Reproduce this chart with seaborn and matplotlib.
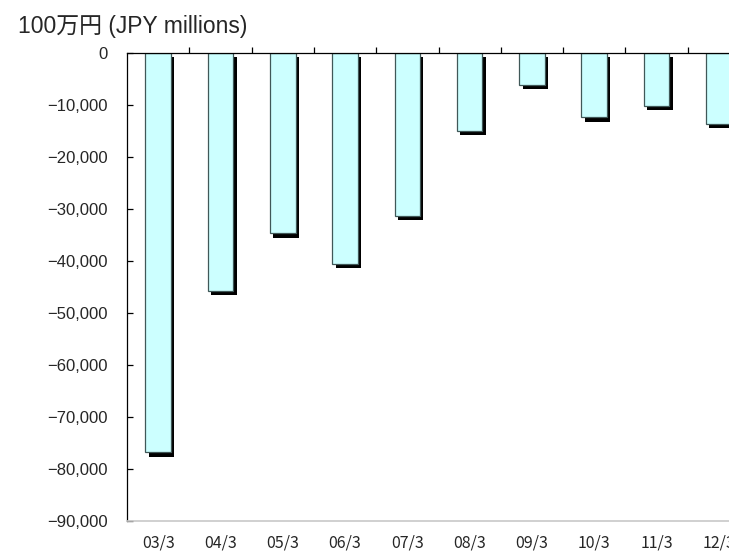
import numpy as np
import matplotlib
matplotlib.use("Agg")
import matplotlib.pyplot as plt
import matplotlib.patheffects as pe
from matplotlib.ticker import FuncFormatter
import seaborn as sns

# fiscal year ends and values (JPY millions)
periods = ["03/3", "04/3", "05/3", "06/3", "07/3", "08/3", "09/3", "10/3", "11/3", "12/3"]
values = [-76800, -45800, -34700, -40600, -31300, -15000, -6200, -12400, -10100, -13700]
yticks = list(range(-90000, 1, 10000))

sns.set_theme(style="white")
plt.rcParams['font.family'] = ['Liberation Sans', 'Noto Sans CJK JP']

fig = plt.figure(figsize=(7.29, 5.55), dpi=100)
# axes run past the right edge, like the original crop
ax = fig.add_axes([127 / 729, 34 / 555, 623 / 729, 468 / 555])

sns.barplot(x=periods, y=values, color="#ccffff", saturation=1, width=0.41,
            edgecolor="#405858", linewidth=0.9, ax=ax)
for bar in ax.patches:
    bar.set_path_effects([pe.SimplePatchShadow(offset=(2.4, -3.0), shadow_rgbFace="black", alpha=1.0),
                          pe.Normal()])

ax.set_ylim(-90000, 0)
ax.set_xlim(-0.5, len(periods) - 0.5)
ax.set_yticks(yticks)
ax.yaxis.set_major_formatter(FuncFormatter(lambda v, p: f"{v:,.0f}".replace("-", "\u2212")))
ax.set_xlabel("")
ax.set_ylabel("")

for s in ["top", "left"]:
    ax.spines[s].set_color("black")
    ax.spines[s].set_linewidth(0.9)
ax.spines["bottom"].set_color("#c8c8c8")
ax.spines["bottom"].set_linewidth(1.2)
ax.spines["right"].set_visible(False)

ax.tick_params(axis="y", direction="in", length=4, width=0.9, color="black", left=True,
               pad=14, labelsize=12)
ax.tick_params(axis="x", which="major", length=0, pad=10, labelsize=11.5)
ax.set_xticks(np.arange(0.5, len(periods) - 0.5), minor=True)
ax.tick_params(axis="x", which="minor", top=True, bottom=False, direction="out", length=4,
               width=0.9, color="black")
for lab in ax.get_xticklabels():
    lab.set_family(["Noto Sans CJK JP", "DejaVu Sans"])

fig.text(18 / 729, 1 - 26 / 555, "100万円 (JPY millions)", fontsize=16.5, va="center", ha="left")

fig.savefig("out.png", dpi=100)
